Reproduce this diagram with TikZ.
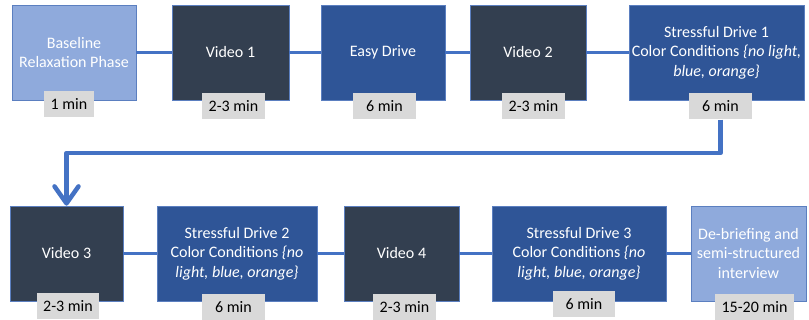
\documentclass[tikz,border=0pt]{standalone}
\usepackage{fontspec}
\setmainfont{Carlito}
\usetikzlibrary{arrows.meta}
\definecolor{lightb}{HTML}{8FAADC}
\definecolor{darkb}{HTML}{333F50}
\definecolor{midb}{HTML}{2F5597}
\definecolor{edgeb}{HTML}{4472C4}
\definecolor{outl}{HTML}{5B7FC0}
\definecolor{tagg}{HTML}{D9D9D9}
\tikzset{
  box/.style={draw=outl, line width=0.7pt, minimum height=95pt, text=white, align=center, inner sep=2pt,
    font=\fontsize{16}{19.5}\selectfont},
  lightbox/.style={box, fill=lightb},
  darkbox/.style={box, fill=darkb},
  midbox/.style={box, fill=midb},
  tag/.style={fill=tagg, text=black, minimum height=26pt, inner sep=0pt, font=\fontsize{16}{19.5}\selectfont},
  link/.style={draw=edgeb, line width=2.5pt},
  ret/.style={draw=edgeb, line width=4.5pt, line join=round,
    -{Straight Barb[length=17pt, width=24pt, line cap=round, line join=round]}}
}
\begin{document}
\begin{tikzpicture}[x=1pt, y=-1pt]
\useasboundingbox (0,0) rectangle (809,320);
% row 1
\node[lightbox, minimum width=124pt] (base) at (74,52.5) {Baseline\\Relaxation Phase};
\node[darkbox, minimum width=117pt] (vid1) at (230.5,52.5) {Video 1};
\node[midbox, minimum width=124pt] (easy) at (383,52.5) {Easy Drive};
\node[darkbox, minimum width=116pt] (vid2) at (528,52.5) {Video 2};
\node[midbox, minimum width=175pt] (sd1) at (716.5,52.5) {Stressful Drive 1\\Color Conditions \textit{\{no light,}\\\textit{blue, orange\}}};
% row 2
\node[darkbox, minimum width=113pt] (vid3) at (66.5,253.5) {Video 3};
\node[midbox, minimum width=160pt] (sd2) at (237,253.5) {Stressful Drive 2\\Color Conditions \textit{\{no}\\\textit{light, blue, orange\}}};
\node[darkbox, minimum width=115pt] (vid4) at (401.5,253.5) {Video 4};
\node[midbox, minimum width=174pt] (sd3) at (579,253.5) {Stressful Drive 3\\Color Conditions \textit{\{no}\\\textit{light, blue, orange\}}};
\node[lightbox, minimum width=115pt] (deb) at (748.5,253.5) {De-briefing and\\semi-structured\\interview};
% connectors
\draw[link] (base.east) -- (vid1.west);
\draw[link] (vid1.east) -- (easy.west);
\draw[link] (easy.east) -- (vid2.west);
\draw[link] (vid2.east) -- (sd1.west);
\draw[link] (vid3.east) -- (sd2.west);
\draw[link] (sd2.east) -- (vid4.west);
\draw[link] (vid4.east) -- (sd3.west);
\draw[link] (sd3.east) -- (deb.west);
% tags
\node[tag, minimum width=50pt] (t1) at (69,104) {1 min};
\node[tag, minimum width=63pt] (t2) at (233.5,106.5) {2-3 min};
\node[tag, minimum width=63pt] (t3) at (384.5,106.5) {6 min};
\node[tag, minimum width=63pt] (t4) at (533.5,106.5) {2-3 min};
\node[tag, minimum width=63pt] (t5) at (720.5,106.5) {6 min};
\node[tag, minimum width=62pt] (m1) at (68,306.5) {2-3 min};
\node[tag, minimum width=63pt] (m2) at (233.5,307) {6 min};
\node[tag, minimum width=63pt] (m3) at (404.5,307) {2-3 min};
\node[tag, minimum width=62pt] (m4) at (584,304.5) {6 min};
\node[tag, minimum width=79pt] (m5) at (754.5,307) {15-20 min};
% return connector
\coordinate (r) at (400,153);
\draw[ret] (t5.south) |- (r) -| (vid3.north);
\end{tikzpicture}
\end{document}
